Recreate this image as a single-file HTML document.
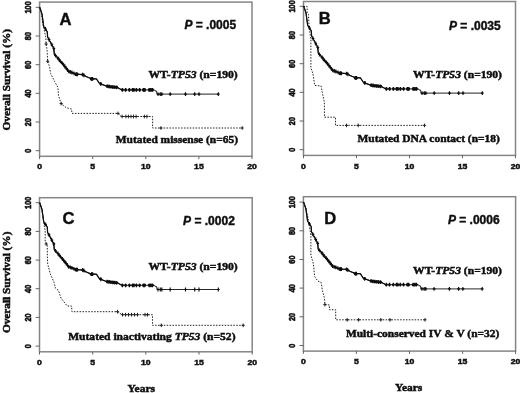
<!DOCTYPE html>
<html lang="en"><head><meta charset="utf-8"><title>Overall Survival by TP53 mutation category</title>
<style>html,body{margin:0;padding:0;background:#fff}svg{display:block}.s{font-family:"Liberation Sans", Arial, Helvetica, sans-serif;font-weight:bold;fill:#111;stroke:#111;stroke-width:0.5}.t{font-family:"Liberation Serif", "Times New Roman", Times, serif;font-weight:bold;fill:#111;stroke:#111;stroke-width:0.5}.i{font-style:italic}.b{stroke-width:0.42}</style></head><body>
<svg width="520" height="393" viewBox="0 0 520 393">
<defs><filter id="soft" x="-2%" y="-2%" width="104%" height="104%"><feGaussianBlur stdDeviation="0.4"/></filter></defs>
<rect width="520" height="393" fill="#fff"/>
<g filter="url(#soft)">
<g id="panel-A">
<rect x="39.6" y="2.1" width="212.4" height="154.2" fill="none" stroke="#858585" stroke-width="1.5"/>
<line x1="35.7" y1="7.3" x2="39.6" y2="7.3" stroke="#555" stroke-width="0.9"/>
<text class="s" font-size="7.4" text-anchor="middle" transform="translate(31.3,7.4) rotate(-90) scale(1,1.16)">100</text>
<line x1="35.7" y1="36.0" x2="39.6" y2="36.0" stroke="#555" stroke-width="0.9"/>
<text class="s" font-size="7.4" text-anchor="middle" transform="translate(31.3,36.1) rotate(-90) scale(1,1.16)">80</text>
<line x1="35.7" y1="64.7" x2="39.6" y2="64.7" stroke="#555" stroke-width="0.9"/>
<text class="s" font-size="7.4" text-anchor="middle" transform="translate(31.3,64.8) rotate(-90) scale(1,1.16)">60</text>
<line x1="35.7" y1="93.3" x2="39.6" y2="93.3" stroke="#555" stroke-width="0.9"/>
<text class="s" font-size="7.4" text-anchor="middle" transform="translate(31.3,93.4) rotate(-90) scale(1,1.16)">40</text>
<line x1="35.7" y1="122.0" x2="39.6" y2="122.0" stroke="#555" stroke-width="0.9"/>
<text class="s" font-size="7.4" text-anchor="middle" transform="translate(31.3,122.1) rotate(-90) scale(1,1.16)">20</text>
<line x1="35.7" y1="150.7" x2="39.6" y2="150.7" stroke="#555" stroke-width="0.9"/>
<text class="s" font-size="7.4" text-anchor="middle" transform="translate(31.3,150.8) rotate(-90) scale(1,1.16)">0</text>
<line x1="39.6" y1="156.3" x2="39.6" y2="159.1" stroke="#555" stroke-width="0.9"/>
<text class="s" font-size="8" text-anchor="middle" transform="translate(39.6,169.4) scale(1.08,1)">0</text>
<line x1="92.7" y1="156.3" x2="92.7" y2="159.1" stroke="#555" stroke-width="0.9"/>
<text class="s" font-size="8" text-anchor="middle" transform="translate(92.7,169.4) scale(1.08,1)">5</text>
<line x1="145.8" y1="156.3" x2="145.8" y2="159.1" stroke="#555" stroke-width="0.9"/>
<text class="s" font-size="8" text-anchor="middle" transform="translate(145.8,169.4) scale(1.08,1)">10</text>
<line x1="198.9" y1="156.3" x2="198.9" y2="159.1" stroke="#555" stroke-width="0.9"/>
<text class="s" font-size="8" text-anchor="middle" transform="translate(198.9,169.4) scale(1.08,1)">15</text>
<line x1="252.0" y1="156.3" x2="252.0" y2="159.1" stroke="#555" stroke-width="0.9"/>
<text class="s" font-size="8" text-anchor="middle" transform="translate(252.0,169.4) scale(1.08,1)">20</text>
<polyline points="39.7,7.3 41.5,14.0 43.0,25.0 45.8,37.1 46.2,44.1 47.1,50.4 47.7,61.3 49.6,67.0 50.6,73.5 54.7,81.6 57.9,87.4 58.5,95.6 61.2,103.6 66.4,107.8 71.5,109.1 72.0,113.4 118.3,113.4 121.5,116.5 152.6,116.5 152.6,128.0 242.2,128.0" fill="none" stroke="#222" stroke-width="1.0" stroke-dasharray="1.5 1.4"/>
<path d="M44.5 44.0h3.2M46.1 42.2v3.6M46.1 61.3h3.2M47.7 59.5v3.6M59.6 103.6h3.2M61.2 101.8v3.6M116.4 113.4h3.2M118.0 111.6v3.6M120.5 116.5h3.2M122.1 114.7v3.6M124.3 116.5h3.2M125.9 114.7v3.6M126.8 116.5h3.2M128.4 114.7v3.6M129.4 116.5h3.2M131.0 114.7v3.6M131.9 116.5h3.2M133.5 114.7v3.6M134.5 116.5h3.2M136.1 114.7v3.6M142.8 116.5h3.2M144.4 114.7v3.6M145.3 116.5h3.2M146.9 114.7v3.6M159.3 128.0h3.2M160.9 126.2v3.6M240.6 128.0h3.2M242.2 126.2v3.6" stroke="#222" stroke-width="1.0" fill="none"/>
<polyline points="39.7,7.3 42.0,14.0 43.7,26.3 47.3,31.8 47.6,37.0 50.6,42.5 53.8,48.5 54.3,54.3 57.9,58.1 60.4,61.3 64.9,66.4 68.7,71.5 71.9,72.5 76.3,74.2 82.7,74.6 86.0,76.5 91.5,78.8 96.4,78.8 99.5,83.5 106.5,86.1 112.9,87.0 117.4,87.4 121.8,89.9 154.5,89.9 155.0,91.0 156.5,91.0 157.1,94.1 218.3,94.1" fill="none" stroke="#1a1a1a" stroke-width="0.95" stroke-linejoin="round"/>
<polyline points="39.7,7.3 42.0,14.0 43.7,26.3 47.3,31.8 47.6,37.0 50.6,42.5 53.8,48.5 54.3,54.3 57.9,58.1 60.4,61.3 64.9,66.4 68.7,71.5 71.9,72.5 76.3,74.2 82.7,74.6 86.0,76.5 91.5,78.8 96.4,78.8 99.5,83.5 106.5,86.1 112.9,87.0 117.4,87.4 121.8,89.9" fill="none" stroke="#111" stroke-width="1.2" stroke-linejoin="round"/>
<path d="M106.2 86.2h2.0M108.1 86.5h2.0M110.0 86.8h2.0M111.9 87.0h2.0M113.8 87.2h2.0M115.7 87.4h2.0M121.4 89.9h2.0M124.6 89.9h2.0M128.4 89.9h2.0M131.6 89.9h2.0M132.9 89.9h2.0M135.4 89.9h2.0M138.6 89.9h2.0M142.4 89.9h2.0M143.7 89.9h2.0M148.2 89.9h2.0M150.0 89.9h2.0M151.5 89.9h2.0" stroke="#111" stroke-width="2.6" fill="none"/>
<path d="M44.1 29.0h2.8M45.5 27.1v3.8M47.6 39.5h2.8M49.0 37.6v3.8M50.4 44.7h2.8M51.8 42.8v3.8M52.4 48.5h2.8M53.8 46.6v3.8M54.1 55.5h2.8M55.5 53.6v3.8M56.5 58.1h2.8M57.9 56.2v3.8M57.8 59.8h2.8M59.2 57.9v3.8M59.0 61.3h2.8M60.4 59.4v3.8M61.0 63.4h2.8M62.4 61.5v3.8M62.2 64.9h2.8M63.6 63.0v3.8M63.5 66.5h2.8M64.9 64.6v3.8M64.8 68.2h2.8M66.2 66.3v3.8M66.1 69.8h2.8M67.5 67.9v3.8M67.3 71.4h2.8M68.7 69.5v3.8M68.9 72.0h2.8M70.3 70.1v3.8M70.5 72.5h2.8M71.9 70.6v3.8M72.6 73.4h2.8M74.0 71.5v3.8M74.9 74.2h2.8M76.3 72.3v3.8M76.1 74.3h2.8M77.5 72.4v3.8M81.3 74.6h2.8M82.7 72.7v3.8M82.6 75.3h2.8M84.0 73.4v3.8M90.2 78.8h2.8M91.6 76.9v3.8M91.2 78.8h2.8M92.6 76.9v3.8M99.4 84.0h2.8M100.8 82.1v3.8M105.8 86.2h2.8M107.2 84.3v3.8M107.7 86.5h2.8M109.1 84.6v3.8M109.6 86.8h2.8M111.0 84.9v3.8M111.5 87.0h2.8M112.9 85.1v3.8M113.4 87.2h2.8M114.8 85.3v3.8M115.3 87.4h2.8M116.7 85.5v3.8M121.0 89.9h2.8M122.4 88.0v3.8M124.2 89.9h2.8M125.6 88.0v3.8M128.0 89.9h2.8M129.4 88.0v3.8M131.2 89.9h2.8M132.6 88.0v3.8M132.5 89.9h2.8M133.9 88.0v3.8M135.0 89.9h2.8M136.4 88.0v3.8M138.2 89.9h2.8M139.6 88.0v3.8M142.0 89.9h2.8M143.4 88.0v3.8M143.3 89.9h2.8M144.7 88.0v3.8M147.8 89.9h2.8M149.2 88.0v3.8M149.6 89.9h2.8M151.0 88.0v3.8M151.1 89.9h2.8M152.5 88.0v3.8M156.6 94.1h2.8M158.0 92.2v3.8M158.9 94.1h2.8M160.3 92.2v3.8M160.4 94.1h2.8M161.8 92.2v3.8M168.8 94.1h2.8M170.2 92.2v3.8M184.1 94.1h2.8M185.5 92.2v3.8M193.3 94.1h2.8M194.7 92.2v3.8M197.6 94.1h2.8M199.0 92.2v3.8M216.9 94.1h2.8M218.3 92.2v3.8" stroke="#111" stroke-width="1.15" fill="none"/>
<circle cx="76.3" cy="74.3" r="1.9" fill="#111"/>
<circle cx="82.7" cy="74.6" r="1.3" fill="#111"/>
<circle cx="91.6" cy="78.9" r="1.8" fill="#111"/>
<circle cx="100.6" cy="83.6" r="1.4" fill="#111"/>
<circle cx="144.2" cy="89.9" r="1.5" fill="#111"/>
<circle cx="150.2" cy="89.9" r="1.6" fill="#111"/>
<circle cx="109.0" cy="86.5" r="1.3" fill="#111"/>
<circle cx="113.0" cy="87.0" r="1.3" fill="#111"/>
<circle cx="71.9" cy="72.6" r="1.0" fill="#111"/>
<circle cx="68.7" cy="71.3" r="1.0" fill="#111"/>
<circle cx="64.9" cy="66.6" r="0.9" fill="#111"/>
<circle cx="62.4" cy="63.4" r="0.9" fill="#111"/>
<circle cx="57.9" cy="58.1" r="0.8" fill="#111"/>
<circle cx="50.6" cy="42.5" r="0.8" fill="#111"/>
<circle cx="53.8" cy="48.5" r="0.8" fill="#111"/>
<text class="s b" x="59.6" y="24.6" font-size="16.6">A</text>
<text class="s b" x="184.4" y="29.4" font-size="12" xml:space="preserve"><tspan class="i">P</tspan> = .0005</text>
<text class="t" x="148.5" y="78.0" font-size="11" textLength="89.2" lengthAdjust="spacingAndGlyphs" xml:space="preserve">WT-<tspan class="i">TP53</tspan> (n=190)</text>
<text class="t" x="115.8" y="142.6" font-size="11" textLength="122.2" lengthAdjust="spacingAndGlyphs">Mutated missense (n=65)</text>
</g>
<g id="panel-B">
<rect x="303.5" y="1.5" width="212.0" height="153.9" fill="none" stroke="#858585" stroke-width="1.5"/>
<line x1="299.6" y1="6.3" x2="303.5" y2="6.3" stroke="#555" stroke-width="0.9"/>
<text class="s" font-size="7.4" text-anchor="middle" transform="translate(295.2,6.4) rotate(-90) scale(1,1.16)">100</text>
<line x1="299.6" y1="35.0" x2="303.5" y2="35.0" stroke="#555" stroke-width="0.9"/>
<text class="s" font-size="7.4" text-anchor="middle" transform="translate(295.2,35.1) rotate(-90) scale(1,1.16)">80</text>
<line x1="299.6" y1="63.7" x2="303.5" y2="63.7" stroke="#555" stroke-width="0.9"/>
<text class="s" font-size="7.4" text-anchor="middle" transform="translate(295.2,63.8) rotate(-90) scale(1,1.16)">60</text>
<line x1="299.6" y1="92.3" x2="303.5" y2="92.3" stroke="#555" stroke-width="0.9"/>
<text class="s" font-size="7.4" text-anchor="middle" transform="translate(295.2,92.4) rotate(-90) scale(1,1.16)">40</text>
<line x1="299.6" y1="121.0" x2="303.5" y2="121.0" stroke="#555" stroke-width="0.9"/>
<text class="s" font-size="7.4" text-anchor="middle" transform="translate(295.2,121.1) rotate(-90) scale(1,1.16)">20</text>
<line x1="299.6" y1="149.7" x2="303.5" y2="149.7" stroke="#555" stroke-width="0.9"/>
<text class="s" font-size="7.4" text-anchor="middle" transform="translate(295.2,149.8) rotate(-90) scale(1,1.16)">0</text>
<line x1="303.5" y1="155.4" x2="303.5" y2="158.2" stroke="#555" stroke-width="0.9"/>
<text class="s" font-size="8" text-anchor="middle" transform="translate(303.5,168.5) scale(1.08,1)">0</text>
<line x1="356.5" y1="155.4" x2="356.5" y2="158.2" stroke="#555" stroke-width="0.9"/>
<text class="s" font-size="8" text-anchor="middle" transform="translate(356.5,168.5) scale(1.08,1)">5</text>
<line x1="409.5" y1="155.4" x2="409.5" y2="158.2" stroke="#555" stroke-width="0.9"/>
<text class="s" font-size="8" text-anchor="middle" transform="translate(409.5,168.5) scale(1.08,1)">10</text>
<line x1="462.5" y1="155.4" x2="462.5" y2="158.2" stroke="#555" stroke-width="0.9"/>
<text class="s" font-size="8" text-anchor="middle" transform="translate(462.5,168.5) scale(1.08,1)">15</text>
<line x1="515.5" y1="155.4" x2="515.5" y2="158.2" stroke="#555" stroke-width="0.9"/>
<text class="s" font-size="8" text-anchor="middle" transform="translate(515.5,168.5) scale(1.08,1)">20</text>
<polyline points="303.5,6.4 307.1,6.4 307.1,13.0 308.5,14.5 309.0,25.0 309.6,30.5 310.9,39.5 310.9,68.2 312.8,73.0 314.7,85.4 321.1,86.0 322.4,93.0 324.3,101.9 324.5,117.2 335.5,117.2 335.5,125.4 424.5,125.4" fill="none" stroke="#222" stroke-width="1.0" stroke-dasharray="1.5 1.4"/>
<path d="M344.9 125.4h3.2M346.5 123.6v3.6M356.6 125.4h3.2M358.2 123.6v3.6M422.9 125.4h3.2M424.5 123.6v3.6" stroke="#222" stroke-width="1.0" fill="none"/>
<polyline points="303.7,6.3 306.0,13.0 307.7,25.3 311.3,30.8 311.6,36.0 314.6,41.5 317.8,47.5 318.3,53.3 321.9,57.1 324.4,60.3 328.9,65.4 332.7,70.5 335.9,71.5 340.3,73.2 346.7,73.6 350.0,75.5 355.5,77.8 360.4,77.8 363.5,82.5 370.5,85.1 376.9,86.0 381.4,86.4 385.8,88.9 418.5,88.9 419.0,90.0 420.5,90.0 421.1,93.1 482.3,93.1" fill="none" stroke="#1a1a1a" stroke-width="0.95" stroke-linejoin="round"/>
<polyline points="303.7,6.3 306.0,13.0 307.7,25.3 311.3,30.8 311.6,36.0 314.6,41.5 317.8,47.5 318.3,53.3 321.9,57.1 324.4,60.3 328.9,65.4 332.7,70.5 335.9,71.5 340.3,73.2 346.7,73.6 350.0,75.5 355.5,77.8 360.4,77.8 363.5,82.5 370.5,85.1 376.9,86.0 381.4,86.4 385.8,88.9" fill="none" stroke="#111" stroke-width="1.2" stroke-linejoin="round"/>
<path d="M370.2 85.2h2.0M372.1 85.5h2.0M374.0 85.8h2.0M375.9 86.0h2.0M377.8 86.2h2.0M379.7 86.4h2.0M385.4 88.9h2.0M388.6 88.9h2.0M392.4 88.9h2.0M395.6 88.9h2.0M396.9 88.9h2.0M399.4 88.9h2.0M402.6 88.9h2.0M406.4 88.9h2.0M407.7 88.9h2.0M412.2 88.9h2.0M414.0 88.9h2.0M415.5 88.9h2.0" stroke="#111" stroke-width="2.6" fill="none"/>
<path d="M308.1 28.0h2.8M309.5 26.1v3.8M311.6 38.5h2.8M313.0 36.6v3.8M314.4 43.7h2.8M315.8 41.8v3.8M316.4 47.5h2.8M317.8 45.6v3.8M318.1 54.5h2.8M319.5 52.6v3.8M320.5 57.1h2.8M321.9 55.2v3.8M321.8 58.8h2.8M323.2 56.9v3.8M323.0 60.3h2.8M324.4 58.4v3.8M325.0 62.4h2.8M326.4 60.5v3.8M326.2 63.9h2.8M327.6 62.0v3.8M327.5 65.5h2.8M328.9 63.6v3.8M328.8 67.2h2.8M330.2 65.3v3.8M330.1 68.8h2.8M331.5 66.9v3.8M331.3 70.4h2.8M332.7 68.5v3.8M332.9 71.0h2.8M334.3 69.1v3.8M334.5 71.5h2.8M335.9 69.6v3.8M336.6 72.4h2.8M338.0 70.5v3.8M338.9 73.2h2.8M340.3 71.3v3.8M340.1 73.3h2.8M341.5 71.4v3.8M345.3 73.6h2.8M346.7 71.7v3.8M346.6 74.3h2.8M348.0 72.4v3.8M354.2 77.8h2.8M355.6 75.9v3.8M355.2 77.8h2.8M356.6 75.9v3.8M363.4 83.0h2.8M364.8 81.1v3.8M369.8 85.2h2.8M371.2 83.3v3.8M371.7 85.5h2.8M373.1 83.6v3.8M373.6 85.8h2.8M375.0 83.9v3.8M375.5 86.0h2.8M376.9 84.1v3.8M377.4 86.2h2.8M378.8 84.3v3.8M379.3 86.4h2.8M380.7 84.5v3.8M385.0 88.9h2.8M386.4 87.0v3.8M388.2 88.9h2.8M389.6 87.0v3.8M392.0 88.9h2.8M393.4 87.0v3.8M395.2 88.9h2.8M396.6 87.0v3.8M396.5 88.9h2.8M397.9 87.0v3.8M399.0 88.9h2.8M400.4 87.0v3.8M402.2 88.9h2.8M403.6 87.0v3.8M406.0 88.9h2.8M407.4 87.0v3.8M407.3 88.9h2.8M408.7 87.0v3.8M411.8 88.9h2.8M413.2 87.0v3.8M413.6 88.9h2.8M415.0 87.0v3.8M415.1 88.9h2.8M416.5 87.0v3.8M420.6 93.1h2.8M422.0 91.2v3.8M422.9 93.1h2.8M424.3 91.2v3.8M424.4 93.1h2.8M425.8 91.2v3.8M432.8 93.1h2.8M434.2 91.2v3.8M448.1 93.1h2.8M449.5 91.2v3.8M457.3 93.1h2.8M458.7 91.2v3.8M461.6 93.1h2.8M463.0 91.2v3.8M480.9 93.1h2.8M482.3 91.2v3.8" stroke="#111" stroke-width="1.15" fill="none"/>
<circle cx="340.3" cy="73.3" r="1.9" fill="#111"/>
<circle cx="346.7" cy="73.6" r="1.3" fill="#111"/>
<circle cx="355.6" cy="77.9" r="1.8" fill="#111"/>
<circle cx="364.6" cy="82.6" r="1.4" fill="#111"/>
<circle cx="408.2" cy="88.9" r="1.5" fill="#111"/>
<circle cx="414.2" cy="88.9" r="1.6" fill="#111"/>
<circle cx="373.0" cy="85.5" r="1.3" fill="#111"/>
<circle cx="377.0" cy="86.0" r="1.3" fill="#111"/>
<circle cx="335.9" cy="71.6" r="1.0" fill="#111"/>
<circle cx="332.7" cy="70.3" r="1.0" fill="#111"/>
<circle cx="328.9" cy="65.6" r="0.9" fill="#111"/>
<circle cx="326.4" cy="62.4" r="0.9" fill="#111"/>
<circle cx="321.9" cy="57.1" r="0.8" fill="#111"/>
<circle cx="314.6" cy="41.5" r="0.8" fill="#111"/>
<circle cx="317.8" cy="47.5" r="0.8" fill="#111"/>
<text class="s b" x="318.8" y="23.5" font-size="16.6">B</text>
<text class="s b" x="449" y="29.7" font-size="12" xml:space="preserve"><tspan class="i">P</tspan> = .0035</text>
<text class="t" x="413.1" y="77.6" font-size="11" textLength="88.9" lengthAdjust="spacingAndGlyphs" xml:space="preserve">WT-<tspan class="i">TP53</tspan> (n=190)</text>
<text class="t" x="357.5" y="142.1" font-size="11" textLength="142.3" lengthAdjust="spacingAndGlyphs">Mutated DNA contact (n=18)</text>
</g>
<g id="panel-C">
<rect x="39.5" y="197.7" width="212.7" height="154.1" fill="none" stroke="#858585" stroke-width="1.5"/>
<line x1="35.6" y1="202.7" x2="39.5" y2="202.7" stroke="#555" stroke-width="0.9"/>
<text class="s" font-size="7.4" text-anchor="middle" transform="translate(31.2,202.8) rotate(-90) scale(1,1.16)">100</text>
<line x1="35.6" y1="231.4" x2="39.5" y2="231.4" stroke="#555" stroke-width="0.9"/>
<text class="s" font-size="7.4" text-anchor="middle" transform="translate(31.2,231.5) rotate(-90) scale(1,1.16)">80</text>
<line x1="35.6" y1="260.1" x2="39.5" y2="260.1" stroke="#555" stroke-width="0.9"/>
<text class="s" font-size="7.4" text-anchor="middle" transform="translate(31.2,260.2) rotate(-90) scale(1,1.16)">60</text>
<line x1="35.6" y1="288.7" x2="39.5" y2="288.7" stroke="#555" stroke-width="0.9"/>
<text class="s" font-size="7.4" text-anchor="middle" transform="translate(31.2,288.8) rotate(-90) scale(1,1.16)">40</text>
<line x1="35.6" y1="317.4" x2="39.5" y2="317.4" stroke="#555" stroke-width="0.9"/>
<text class="s" font-size="7.4" text-anchor="middle" transform="translate(31.2,317.5) rotate(-90) scale(1,1.16)">20</text>
<line x1="35.6" y1="346.1" x2="39.5" y2="346.1" stroke="#555" stroke-width="0.9"/>
<text class="s" font-size="7.4" text-anchor="middle" transform="translate(31.2,346.2) rotate(-90) scale(1,1.16)">0</text>
<line x1="39.5" y1="351.8" x2="39.5" y2="354.6" stroke="#555" stroke-width="0.9"/>
<text class="s" font-size="8" text-anchor="middle" transform="translate(39.5,364.9) scale(1.08,1)">0</text>
<line x1="92.7" y1="351.8" x2="92.7" y2="354.6" stroke="#555" stroke-width="0.9"/>
<text class="s" font-size="8" text-anchor="middle" transform="translate(92.7,364.9) scale(1.08,1)">5</text>
<line x1="145.8" y1="351.8" x2="145.8" y2="354.6" stroke="#555" stroke-width="0.9"/>
<text class="s" font-size="8" text-anchor="middle" transform="translate(145.8,364.9) scale(1.08,1)">10</text>
<line x1="199.0" y1="351.8" x2="199.0" y2="354.6" stroke="#555" stroke-width="0.9"/>
<text class="s" font-size="8" text-anchor="middle" transform="translate(199.0,364.9) scale(1.08,1)">15</text>
<line x1="252.2" y1="351.8" x2="252.2" y2="354.6" stroke="#555" stroke-width="0.9"/>
<text class="s" font-size="8" text-anchor="middle" transform="translate(252.2,364.9) scale(1.08,1)">20</text>
<polyline points="39.7,202.7 42.0,211.0 44.5,227.7 45.2,230.0 45.2,241.7 47.3,245.5 47.3,256.3 47.7,263.9 50.3,274.1 54.1,282.4 55.4,288.1 58.5,290.6 61.1,298.3 67.2,306.0 71.6,306.0 71.9,311.7 117.5,311.7 122.0,314.7 152.5,314.7 152.5,325.3 243.2,325.3" fill="none" stroke="#222" stroke-width="1.0" stroke-dasharray="1.5 1.4"/>
<path d="M44.6 244.0h3.2M46.2 242.2v3.6M115.9 311.7h3.2M117.5 309.9v3.6M120.9 314.7h3.2M122.5 312.9v3.6M123.9 314.7h3.2M125.5 312.9v3.6M126.9 314.7h3.2M128.5 312.9v3.6M129.9 314.7h3.2M131.5 312.9v3.6M132.9 314.7h3.2M134.5 312.9v3.6M135.9 314.7h3.2M137.5 312.9v3.6M143.4 314.7h3.2M145.0 312.9v3.6M145.9 314.7h3.2M147.5 312.9v3.6M159.7 325.3h3.2M161.3 323.5v3.6M241.6 325.3h3.2M243.2 323.5v3.6" stroke="#222" stroke-width="1.0" fill="none"/>
<polyline points="39.7,202.7 42.0,209.4 43.7,221.7 47.3,227.2 47.6,232.4 50.6,237.9 53.8,243.9 54.3,249.7 57.9,253.5 60.4,256.7 64.9,261.8 68.7,266.9 71.9,267.9 76.3,269.6 82.7,270.0 86.0,271.9 91.5,274.2 96.4,274.2 99.5,278.9 106.5,281.5 112.9,282.4 117.4,282.8 121.8,285.3 154.5,285.3 155.0,286.4 156.5,286.4 157.1,289.5 218.3,289.5" fill="none" stroke="#1a1a1a" stroke-width="0.95" stroke-linejoin="round"/>
<polyline points="39.7,202.7 42.0,209.4 43.7,221.7 47.3,227.2 47.6,232.4 50.6,237.9 53.8,243.9 54.3,249.7 57.9,253.5 60.4,256.7 64.9,261.8 68.7,266.9 71.9,267.9 76.3,269.6 82.7,270.0 86.0,271.9 91.5,274.2 96.4,274.2 99.5,278.9 106.5,281.5 112.9,282.4 117.4,282.8 121.8,285.3" fill="none" stroke="#111" stroke-width="1.2" stroke-linejoin="round"/>
<path d="M106.2 281.6h2.0M108.1 281.9h2.0M110.0 282.2h2.0M111.9 282.4h2.0M113.8 282.6h2.0M115.7 282.8h2.0M121.4 285.3h2.0M124.6 285.3h2.0M128.4 285.3h2.0M131.6 285.3h2.0M132.9 285.3h2.0M135.4 285.3h2.0M138.6 285.3h2.0M142.4 285.3h2.0M143.7 285.3h2.0M148.2 285.3h2.0M150.0 285.3h2.0M151.5 285.3h2.0" stroke="#111" stroke-width="2.6" fill="none"/>
<path d="M44.1 224.4h2.8M45.5 222.5v3.8M47.6 234.9h2.8M49.0 233.0v3.8M50.4 240.1h2.8M51.8 238.2v3.8M52.4 243.9h2.8M53.8 242.0v3.8M54.1 250.9h2.8M55.5 249.0v3.8M56.5 253.5h2.8M57.9 251.6v3.8M57.8 255.2h2.8M59.2 253.3v3.8M59.0 256.7h2.8M60.4 254.8v3.8M61.0 258.8h2.8M62.4 256.9v3.8M62.2 260.3h2.8M63.6 258.4v3.8M63.5 261.9h2.8M64.9 260.0v3.8M64.8 263.6h2.8M66.2 261.7v3.8M66.1 265.2h2.8M67.5 263.3v3.8M67.3 266.8h2.8M68.7 264.9v3.8M68.9 267.4h2.8M70.3 265.5v3.8M70.5 267.9h2.8M71.9 266.0v3.8M72.6 268.8h2.8M74.0 266.9v3.8M74.9 269.6h2.8M76.3 267.7v3.8M76.1 269.7h2.8M77.5 267.8v3.8M81.3 270.0h2.8M82.7 268.1v3.8M82.6 270.7h2.8M84.0 268.8v3.8M90.2 274.2h2.8M91.6 272.3v3.8M91.2 274.2h2.8M92.6 272.3v3.8M99.4 279.4h2.8M100.8 277.5v3.8M105.8 281.6h2.8M107.2 279.7v3.8M107.7 281.9h2.8M109.1 280.0v3.8M109.6 282.2h2.8M111.0 280.3v3.8M111.5 282.4h2.8M112.9 280.5v3.8M113.4 282.6h2.8M114.8 280.7v3.8M115.3 282.8h2.8M116.7 280.9v3.8M121.0 285.3h2.8M122.4 283.4v3.8M124.2 285.3h2.8M125.6 283.4v3.8M128.0 285.3h2.8M129.4 283.4v3.8M131.2 285.3h2.8M132.6 283.4v3.8M132.5 285.3h2.8M133.9 283.4v3.8M135.0 285.3h2.8M136.4 283.4v3.8M138.2 285.3h2.8M139.6 283.4v3.8M142.0 285.3h2.8M143.4 283.4v3.8M143.3 285.3h2.8M144.7 283.4v3.8M147.8 285.3h2.8M149.2 283.4v3.8M149.6 285.3h2.8M151.0 283.4v3.8M151.1 285.3h2.8M152.5 283.4v3.8M156.6 289.5h2.8M158.0 287.6v3.8M158.9 289.5h2.8M160.3 287.6v3.8M160.4 289.5h2.8M161.8 287.6v3.8M168.8 289.5h2.8M170.2 287.6v3.8M184.1 289.5h2.8M185.5 287.6v3.8M193.3 289.5h2.8M194.7 287.6v3.8M197.6 289.5h2.8M199.0 287.6v3.8M216.9 289.5h2.8M218.3 287.6v3.8" stroke="#111" stroke-width="1.15" fill="none"/>
<circle cx="76.3" cy="269.7" r="1.9" fill="#111"/>
<circle cx="82.7" cy="270.0" r="1.3" fill="#111"/>
<circle cx="91.6" cy="274.3" r="1.8" fill="#111"/>
<circle cx="100.6" cy="279.0" r="1.4" fill="#111"/>
<circle cx="144.2" cy="285.3" r="1.5" fill="#111"/>
<circle cx="150.2" cy="285.3" r="1.6" fill="#111"/>
<circle cx="109.0" cy="281.9" r="1.3" fill="#111"/>
<circle cx="113.0" cy="282.4" r="1.3" fill="#111"/>
<circle cx="71.9" cy="268.0" r="1.0" fill="#111"/>
<circle cx="68.7" cy="266.7" r="1.0" fill="#111"/>
<circle cx="64.9" cy="262.0" r="0.9" fill="#111"/>
<circle cx="62.4" cy="258.8" r="0.9" fill="#111"/>
<circle cx="57.9" cy="253.5" r="0.8" fill="#111"/>
<circle cx="50.6" cy="237.9" r="0.8" fill="#111"/>
<circle cx="53.8" cy="243.9" r="0.8" fill="#111"/>
<text class="s b" x="62.4" y="223.6" font-size="16.6">C</text>
<text class="s b" x="183.1" y="224.6" font-size="12" xml:space="preserve"><tspan class="i">P</tspan> = .0002</text>
<text class="t" x="148.5" y="270.1" font-size="11" textLength="89.2" lengthAdjust="spacingAndGlyphs" xml:space="preserve">WT-<tspan class="i">TP53</tspan> (n=190)</text>
<text class="t" x="68.2" y="340.4" font-size="11" textLength="167.3" lengthAdjust="spacingAndGlyphs" xml:space="preserve">Mutated inactivating <tspan class="i">TP53</tspan> (n=52)</text>
</g>
<g id="panel-D">
<rect x="303.4" y="196.7" width="212.2" height="154.4" fill="none" stroke="#858585" stroke-width="1.5"/>
<line x1="299.5" y1="202.1" x2="303.4" y2="202.1" stroke="#555" stroke-width="0.9"/>
<text class="s" font-size="7.4" text-anchor="middle" transform="translate(295.1,202.2) rotate(-90) scale(1,1.16)">100</text>
<line x1="299.5" y1="230.8" x2="303.4" y2="230.8" stroke="#555" stroke-width="0.9"/>
<text class="s" font-size="7.4" text-anchor="middle" transform="translate(295.1,230.9) rotate(-90) scale(1,1.16)">80</text>
<line x1="299.5" y1="259.5" x2="303.4" y2="259.5" stroke="#555" stroke-width="0.9"/>
<text class="s" font-size="7.4" text-anchor="middle" transform="translate(295.1,259.6) rotate(-90) scale(1,1.16)">60</text>
<line x1="299.5" y1="288.1" x2="303.4" y2="288.1" stroke="#555" stroke-width="0.9"/>
<text class="s" font-size="7.4" text-anchor="middle" transform="translate(295.1,288.2) rotate(-90) scale(1,1.16)">40</text>
<line x1="299.5" y1="316.8" x2="303.4" y2="316.8" stroke="#555" stroke-width="0.9"/>
<text class="s" font-size="7.4" text-anchor="middle" transform="translate(295.1,316.9) rotate(-90) scale(1,1.16)">20</text>
<line x1="299.5" y1="345.5" x2="303.4" y2="345.5" stroke="#555" stroke-width="0.9"/>
<text class="s" font-size="7.4" text-anchor="middle" transform="translate(295.1,345.6) rotate(-90) scale(1,1.16)">0</text>
<line x1="303.4" y1="351.1" x2="303.4" y2="353.9" stroke="#555" stroke-width="0.9"/>
<text class="s" font-size="8" text-anchor="middle" transform="translate(303.4,364.2) scale(1.08,1)">0</text>
<line x1="356.4" y1="351.1" x2="356.4" y2="353.9" stroke="#555" stroke-width="0.9"/>
<text class="s" font-size="8" text-anchor="middle" transform="translate(356.4,364.2) scale(1.08,1)">5</text>
<line x1="409.5" y1="351.1" x2="409.5" y2="353.9" stroke="#555" stroke-width="0.9"/>
<text class="s" font-size="8" text-anchor="middle" transform="translate(409.5,364.2) scale(1.08,1)">10</text>
<line x1="462.6" y1="351.1" x2="462.6" y2="353.9" stroke="#555" stroke-width="0.9"/>
<text class="s" font-size="8" text-anchor="middle" transform="translate(462.6,364.2) scale(1.08,1)">15</text>
<line x1="515.6" y1="351.1" x2="515.6" y2="353.9" stroke="#555" stroke-width="0.9"/>
<text class="s" font-size="8" text-anchor="middle" transform="translate(515.6,364.2) scale(1.08,1)">20</text>
<polyline points="303.6,202.3 306.0,209.0 308.0,218.0 310.9,235.4 310.9,255.0 313.4,263.9 314.7,276.6 317.9,281.1 321.1,282.4 322.4,290.6 324.5,298.3 324.9,304.6 329.4,305.0 329.4,309.7 335.7,309.7 335.7,319.8 425.0,319.8" fill="none" stroke="#222" stroke-width="1.0" stroke-dasharray="1.5 1.4"/>
<path d="M323.3 304.6h3.2M324.9 302.8v3.6M345.6 319.8h3.2M347.2 318.0v3.6M357.0 319.8h3.2M358.6 318.0v3.6M379.2 319.8h3.2M380.8 318.0v3.6M388.4 319.8h3.2M390.0 318.0v3.6M423.4 319.8h3.2M425.0 318.0v3.6" stroke="#222" stroke-width="1.0" fill="none"/>
<polyline points="303.6,202.1 305.9,208.8 307.6,221.1 311.2,226.6 311.5,231.8 314.5,237.3 317.7,243.3 318.2,249.1 321.8,252.9 324.3,256.1 328.8,261.2 332.6,266.3 335.8,267.3 340.2,269.0 346.6,269.4 349.9,271.3 355.4,273.6 360.3,273.6 363.4,278.3 370.4,280.9 376.8,281.8 381.3,282.2 385.7,284.7 418.4,284.7 418.9,285.8 420.4,285.8 421.0,288.9 482.2,288.9" fill="none" stroke="#1a1a1a" stroke-width="0.95" stroke-linejoin="round"/>
<polyline points="303.6,202.1 305.9,208.8 307.6,221.1 311.2,226.6 311.5,231.8 314.5,237.3 317.7,243.3 318.2,249.1 321.8,252.9 324.3,256.1 328.8,261.2 332.6,266.3 335.8,267.3 340.2,269.0 346.6,269.4 349.9,271.3 355.4,273.6 360.3,273.6 363.4,278.3 370.4,280.9 376.8,281.8 381.3,282.2 385.7,284.7" fill="none" stroke="#111" stroke-width="1.2" stroke-linejoin="round"/>
<path d="M370.1 281.0h2.0M372.0 281.3h2.0M373.9 281.6h2.0M375.8 281.8h2.0M377.7 282.0h2.0M379.6 282.2h2.0M385.3 284.7h2.0M388.5 284.7h2.0M392.3 284.7h2.0M395.5 284.7h2.0M396.8 284.7h2.0M399.3 284.7h2.0M402.5 284.7h2.0M406.3 284.7h2.0M407.6 284.7h2.0M412.1 284.7h2.0M413.9 284.7h2.0M415.4 284.7h2.0" stroke="#111" stroke-width="2.6" fill="none"/>
<path d="M308.0 223.8h2.8M309.4 221.9v3.8M311.5 234.3h2.8M312.9 232.4v3.8M314.3 239.5h2.8M315.7 237.6v3.8M316.3 243.3h2.8M317.7 241.4v3.8M318.0 250.3h2.8M319.4 248.4v3.8M320.4 252.9h2.8M321.8 251.0v3.8M321.7 254.6h2.8M323.1 252.7v3.8M322.9 256.1h2.8M324.3 254.2v3.8M324.9 258.2h2.8M326.3 256.3v3.8M326.1 259.7h2.8M327.5 257.8v3.8M327.4 261.3h2.8M328.8 259.4v3.8M328.7 263.0h2.8M330.1 261.1v3.8M330.0 264.6h2.8M331.4 262.7v3.8M331.2 266.2h2.8M332.6 264.3v3.8M332.8 266.8h2.8M334.2 264.9v3.8M334.4 267.3h2.8M335.8 265.4v3.8M336.5 268.2h2.8M337.9 266.3v3.8M338.8 269.0h2.8M340.2 267.1v3.8M340.0 269.1h2.8M341.4 267.2v3.8M345.2 269.4h2.8M346.6 267.5v3.8M346.5 270.1h2.8M347.9 268.2v3.8M354.1 273.6h2.8M355.5 271.7v3.8M355.1 273.6h2.8M356.5 271.7v3.8M363.3 278.8h2.8M364.7 276.9v3.8M369.7 281.0h2.8M371.1 279.1v3.8M371.6 281.3h2.8M373.0 279.4v3.8M373.5 281.6h2.8M374.9 279.7v3.8M375.4 281.8h2.8M376.8 279.9v3.8M377.3 282.0h2.8M378.7 280.1v3.8M379.2 282.2h2.8M380.6 280.3v3.8M384.9 284.7h2.8M386.3 282.8v3.8M388.1 284.7h2.8M389.5 282.8v3.8M391.9 284.7h2.8M393.3 282.8v3.8M395.1 284.7h2.8M396.5 282.8v3.8M396.4 284.7h2.8M397.8 282.8v3.8M398.9 284.7h2.8M400.3 282.8v3.8M402.1 284.7h2.8M403.5 282.8v3.8M405.9 284.7h2.8M407.3 282.8v3.8M407.2 284.7h2.8M408.6 282.8v3.8M411.7 284.7h2.8M413.1 282.8v3.8M413.5 284.7h2.8M414.9 282.8v3.8M415.0 284.7h2.8M416.4 282.8v3.8M420.5 288.9h2.8M421.9 287.0v3.8M422.8 288.9h2.8M424.2 287.0v3.8M424.3 288.9h2.8M425.7 287.0v3.8M432.7 288.9h2.8M434.1 287.0v3.8M448.0 288.9h2.8M449.4 287.0v3.8M457.2 288.9h2.8M458.6 287.0v3.8M461.5 288.9h2.8M462.9 287.0v3.8M480.8 288.9h2.8M482.2 287.0v3.8" stroke="#111" stroke-width="1.15" fill="none"/>
<circle cx="340.2" cy="269.1" r="1.9" fill="#111"/>
<circle cx="346.6" cy="269.4" r="1.3" fill="#111"/>
<circle cx="355.5" cy="273.7" r="1.8" fill="#111"/>
<circle cx="364.5" cy="278.4" r="1.4" fill="#111"/>
<circle cx="408.1" cy="284.7" r="1.5" fill="#111"/>
<circle cx="414.1" cy="284.7" r="1.6" fill="#111"/>
<circle cx="372.9" cy="281.3" r="1.3" fill="#111"/>
<circle cx="376.9" cy="281.8" r="1.3" fill="#111"/>
<circle cx="335.8" cy="267.4" r="1.0" fill="#111"/>
<circle cx="332.6" cy="266.1" r="1.0" fill="#111"/>
<circle cx="328.8" cy="261.4" r="0.9" fill="#111"/>
<circle cx="326.3" cy="258.2" r="0.9" fill="#111"/>
<circle cx="321.8" cy="252.9" r="0.8" fill="#111"/>
<circle cx="314.5" cy="237.3" r="0.8" fill="#111"/>
<circle cx="317.7" cy="243.3" r="0.8" fill="#111"/>
<text class="s b" x="324.3" y="223.6" font-size="16.6">D</text>
<text class="s b" x="447.9" y="224.4" font-size="12" xml:space="preserve"><tspan class="i">P</tspan> = .0006</text>
<text class="t" x="413.1" y="273.7" font-size="11" textLength="88.9" lengthAdjust="spacingAndGlyphs" xml:space="preserve">WT-<tspan class="i">TP53</tspan> (n=190)</text>
<text class="t" x="345.9" y="337.2" font-size="11" textLength="153.4" lengthAdjust="spacingAndGlyphs">Multi-conserved IV &amp; V (n=32)</text>
</g>
<text class="t" font-size="11" textLength="101.5" lengthAdjust="spacingAndGlyphs" transform="translate(9.6,130.5) rotate(-90)">Overall Survival (%)</text>
<text class="t" font-size="11" textLength="101.5" lengthAdjust="spacingAndGlyphs" transform="translate(9.6,333.1) rotate(-90)">Overall Survival (%)</text>
<text class="t" x="127.5" y="392.2" font-size="11" textLength="27.5" lengthAdjust="spacingAndGlyphs">Years</text>
<text class="t" x="395" y="391" font-size="11" textLength="27.3" lengthAdjust="spacingAndGlyphs">Years</text>
</g></svg></body></html>
